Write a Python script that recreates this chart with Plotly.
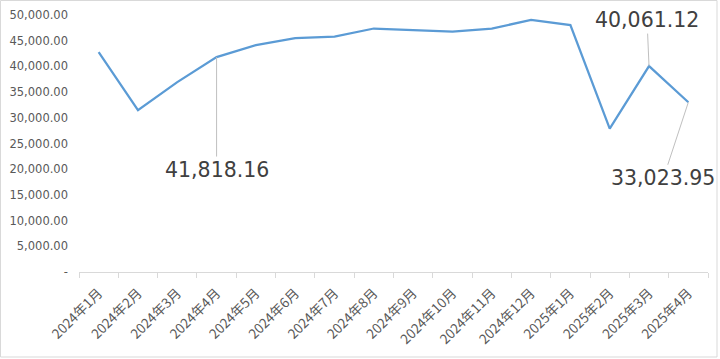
import plotly.graph_objects as go

months = ["2024年1月", "2024年2月", "2024年3月", "2024年4月", "2024年5月", "2024年6月",
          "2024年7月", "2024年8月", "2024年9月", "2024年10月", "2024年11月", "2024年12月",
          "2025年1月", "2025年2月", "2025年3月", "2025年4月"]
values = [42790, 31480, 36940, 41818.16, 44150, 45500, 45800, 47370, 47080, 46780,
          47370, 49030, 48050, 27910, 40061.12, 33023.95]

y_tick_vals = [0, 5000, 10000, 15000, 20000, 25000, 30000, 35000, 40000, 45000, 50000]
y_tick_text = ["-", "5,000.00", "10,000.00", "15,000.00", "20,000.00", "25,000.00",
               "30,000.00", "35,000.00", "40,000.00", "45,000.00", "50,000.00"]

# labelled points: (index, label, x offset px, y offset px)
labelled = [(3, "41,818.16", 0, 113), (14, "40,061.12", -2, -46), (15, "33,023.95", -25, 76)]

W, H = 720, 359
L, R, T, B = 79, 12, 15, 87

fig = go.Figure()
fig.add_trace(go.Scatter(x=months, y=values, mode="lines",
                         line=dict(color="#5B9BD5", width=2.25), hoverinfo="skip"))

for idx, txt, axp, ayp in labelled:
    fig.add_annotation(x=months[idx], y=values[idx], text=txt, showarrow=True,
                       arrowhead=0, arrowwidth=1, arrowcolor="#BFBFBF",
                       ax=axp, ay=ayp, standoff=0,
                       font=dict(family="DejaVu Sans, Noto Sans CJK SC", size=20.5, color="#404040"))

pw = W - L - R
ph = H - T - B
fig.add_shape(type="rect", xref="paper", yref="paper",
              x0=(0.5 - L) / pw, x1=(W - 3 - L) / pw,
              y0=-(H - 2 - T - ph) / ph, y1=1 + (T - 0.5) / ph,
              line=dict(color="#D9D9D9", width=1), layer="below")

fig.update_layout(
    width=W, height=H,
    margin=dict(l=L, r=R, t=T, b=B, autoexpand=False),
    paper_bgcolor="white", plot_bgcolor="white",
    showlegend=False, hovermode=False,
    font=dict(family="DejaVu Sans, Noto Sans CJK SC", size=11.5, color="#595959"),
)
fig.update_xaxes(type="category", tickangle=-45, showgrid=False, automargin=False,
                 showline=True, linecolor="#D9D9D9", linewidth=1,
                 ticks="outside", tickson="boundaries", ticklen=5, tickcolor="#D9D9D9",
                 tickfont=dict(family="Noto Sans CJK SC", size=13.5, color="#595959"),
                 ticklabelstandoff=7,
                 range=[-0.5, len(months) - 0.5])
fig.update_yaxes(range=[0, 50000], tickvals=y_tick_vals, ticktext=y_tick_text,
                 showgrid=False, zeroline=False, showline=False, ticks="", automargin=False,
                 ticklabelstandoff=10)

fig.write_html("out.html", config={"displayModeBar": False, "staticPlot": True},
               post_script="document.body.style.margin='0';document.body.style.overflow='hidden';")
